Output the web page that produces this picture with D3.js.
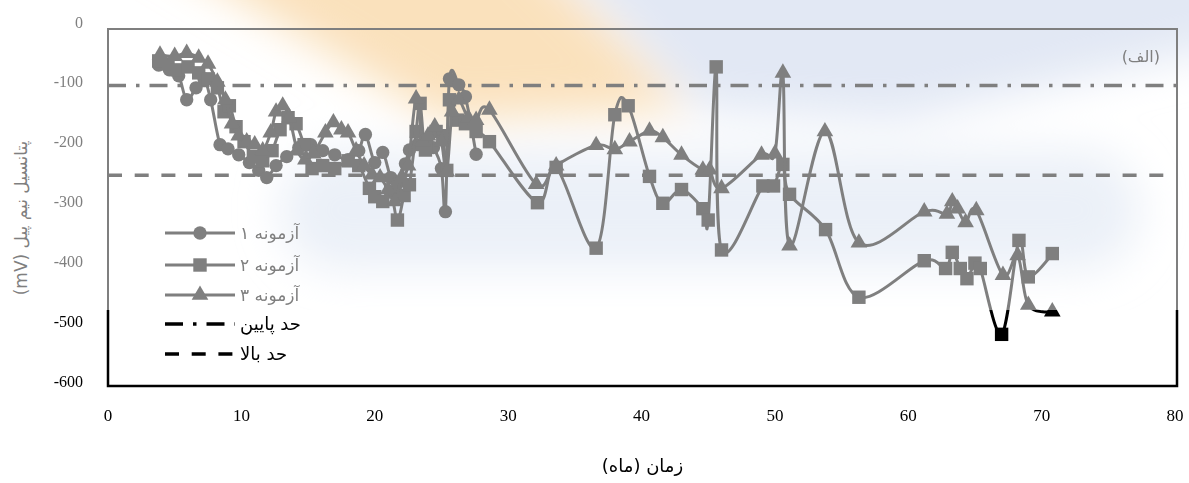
<!DOCTYPE html>
<html>
<head>
<meta charset="utf-8">
<script src="https://cdn.jsdelivr.net/npm/d3@7"></script>
<style>
body{margin:0;background:#fff;}
svg{display:block;}
</style>
</head>
<body>
<script>
var w = 1189;
var h = 483;

// series data (months, potential mV)
var months1 = [3.8,4.6,5.3,5.9,6.6,7.2,7.7,8.4,9.0,9.8,10.6,11.3,11.9,12.6,13.4,14.3,15.2,16.1,17.0,18.0,18.8,19.3,20.0,20.6,21.2,21.7,22.3,22.6,23.2,23.8,24.4,25.0,25.3,25.6,26.3,26.8,27.6];
var pot1 = [-72,-80,-90,-130,-110,-95,-130,-205,-212,-222,-235,-248,-260,-240,-225,-210,-205,-215,-222,-230,-215,-188,-235,-218,-260,-270,-237,-214,-205,-200,-210,-245,-317,-95,-105,-125,-221];

var months2 = [3.8,4.5,5.2,6.0,6.8,7.5,8.2,8.7,9.1,9.6,10.2,10.9,11.6,12.3,12.9,13.5,14.1,14.7,15.3,16.1,17.0,18.0,18.8,19.6,20.0,20.6,21.2,21.7,22.2,22.6,23.1,23.4,23.8,24.6,25.1,25.4,25.6,26.2,26.8,27.6,28.6,32.2,33.6,36.6,38.0,39.0,40.6,41.6,43.0,44.6,45.0,45.6,46.0,49.1,49.9,50.6,51.1,53.8,56.3,61.2,62.8,63.3,63.9,64.4,65.0,65.4,67.0,68.3,69.0,70.8];
var pot2 = [-65,-70,-80,-75,-85,-95,-110,-150,-140,-175,-200,-225,-232,-215,-180,-160,-170,-205,-245,-240,-245,-232,-240,-278,-292,-300,-284,-331,-290,-272,-183,-136,-214,-183,-190,-248,-130,-164,-170,-183,-200,-302,-243,-378,-155,-140,-258,-303,-280,-312,-331,-75,-381,-274,-274,-238,-288,-347,-460,-399,-412,-385,-412,-429,-403,-412,-522,-365,-426,-387];

var months3 = [3.9,5.0,5.9,6.8,7.5,8.2,8.8,9.3,9.8,10.4,11.0,11.6,12.2,12.6,13.1,13.6,14.2,14.8,15.4,16.3,16.9,17.5,18.0,18.6,19.2,19.8,20.4,21.0,21.5,22.0,22.5,23.1,23.6,24.0,24.5,25.0,25.4,25.8,26.3,27.0,27.6,28.6,32.1,33.6,36.6,38.0,39.1,40.6,41.6,43.0,44.6,45.1,46.0,49.0,50.0,50.6,51.1,53.75,56.3,61.2,62.9,63.3,63.7,64.3,65.1,67.1,68.2,69.0,70.8];
var pot3 = [-55,-57,-52,-60,-70,-100,-130,-170,-190,-200,-205,-215,-185,-150,-140,-160,-215,-230,-220,-185,-168,-180,-185,-215,-240,-255,-260,-280,-300,-260,-240,-128,-200,-190,-175,-200,-250,-150,-130,-160,-164,-147,-271,-240,-206,-213,-200,-182,-193,-222,-247,-247,-278,-222,-220,-85,-374,-183,-369,-317,-321,-300,-312,-335,-315,-423,-390,-473,-484];

var lowerLimit = -106;
var upperLimit = -256;

var xTicks = [0,10,20,30,40,50,60,70,80];
var yTicks = [0,-100,-200,-300,-400,-500,-600];
var seriesNames = ["آزمونه ۱","آزمونه ۲","آزمونه ۳"];
var limitNames = ["حد پایین","حد بالا"];

var grey = "#7f7f7f";
var darkY = 310; // everything below this looks black in the scan

var svg = d3.select("body").append("svg")
    .attr("width", w)
    .attr("height", h);

var x = d3.scaleLinear().domain([0,80]).range([108,1175]);
var y = d3.scaleLinear().domain([0,-600]).range([22,381]);

var pLeft = 108, pRight = 1177, pTop = 29, pBottom = 386;

var defs = svg.append("defs");
defs.append("filter").attr("id","blur")
    .attr("filterUnits","userSpaceOnUse")
    .attr("x",-200).attr("y",-200).attr("width",w+400).attr("height",h+400)
    .append("feGaussianBlur").attr("stdDeviation",22);
defs.append("clipPath").attr("id","dark").append("rect")
    .attr("x",0).attr("y",darkY).attr("width",w).attr("height",h-darkY);
defs.append("clipPath").attr("id","light").append("rect")
    .attr("x",0).attr("y",0).attr("width",w).attr("height",darkY);

// faint watermark wash (upper part only)
var wm = svg.append("g").attr("clip-path","url(#light)").append("g").attr("filter","url(#blur)");
wm.append("path").attr("d","M140,-60 L520,-60 L690,110 L440,120 Z").attr("fill","#f9dcb0").attr("opacity",0.85);
wm.append("path").attr("d","M540,-60 L1250,-60 L1250,40 L900,120 L700,110 Z").attr("fill","#dfe6f3").attr("opacity",0.9);
wm.append("rect").attr("x",280).attr("y",150).attr("width",860).attr("height",120).attr("rx",60)
    .attr("fill","#e3e9f5").attr("opacity",0.7);

// frame
svg.append("path")
    .attr("d","M"+pLeft+","+darkY+"V"+pTop+"H"+pRight+"V"+darkY)
    .attr("fill","none").attr("stroke",grey).attr("stroke-width",2);
svg.append("path")
    .attr("d","M"+pLeft+","+darkY+"V"+pBottom+"H"+pRight+"V"+darkY)
    .attr("fill","none").attr("stroke","#000").attr("stroke-width",2.5);

// limit lines
svg.append("line").attr("x1",pLeft).attr("x2",pRight)
    .attr("y1",y(lowerLimit)).attr("y2",y(lowerLimit))
    .attr("stroke",grey).attr("stroke-width",3.5).attr("stroke-dasharray","18,10,3.5,10");
svg.append("line").attr("x1",pLeft).attr("x2",pRight)
    .attr("y1",y(upperLimit)).attr("y2",y(upperLimit))
    .attr("stroke",grey).attr("stroke-width",3.5).attr("stroke-dasharray","14,12.7");

var series = [
  {m: months1, p: pot1, sym: d3.symbolCircle, size: 140},
  {m: months2, p: pot2, sym: d3.symbolSquare, size: 180},
  {m: months3, p: pot3, sym: d3.symbolTriangle, size: 120}
];

var line = d3.line()
    .x(function(d){return x(d[0]);})
    .y(function(d){return y(d[1]);})
    .curve(d3.curveCatmullRom.alpha(0));

function drawSeries(g, color){
  series.forEach(function(s){
    var pts = s.m.map(function(v,i){return [v, s.p[i]];});
    g.append("path").datum(pts)
      .attr("d", line)
      .attr("fill","none").attr("stroke",color).attr("stroke-width",3);
    g.selectAll(null).data(pts).enter().append("path")
      .attr("d", d3.symbol().type(s.sym).size(s.size))
      .attr("transform", function(d){return "translate("+x(d[0])+","+y(d[1])+")";})
      .attr("fill", color);
  });
}
drawSeries(svg.append("g").attr("clip-path","url(#light)"), grey);
drawSeries(svg.append("g").attr("clip-path","url(#dark)"), "#000");

// y tick labels
svg.selectAll(".ytick").data(yTicks).enter().append("text")
    .attr("class","ytick")
    .attr("x",83).attr("y",function(d){return y(d);})
    .attr("dy","0.35em")
    .attr("text-anchor","end")
    .attr("font-family","Liberation Serif, serif")
    .attr("font-size",16)
    .attr("fill",function(d){return y(d) > darkY ? "#000" : grey;})
    .text(function(d){return d;});

// x tick labels
svg.selectAll(".xtick").data(xTicks).enter().append("text")
    .attr("class","xtick")
    .attr("x",function(d){return x(d);}).attr("y",415)
    .attr("dy","0.35em")
    .attr("text-anchor","middle")
    .attr("font-family","Liberation Serif, serif")
    .attr("font-size",17)
    .attr("fill","#000")
    .text(function(d){return d;});

// axis titles
svg.append("text")
    .attr("x",(pLeft+pRight)/2).attr("y",472)
    .attr("direction","rtl")
    .attr("text-anchor","middle")
    .attr("font-family","DejaVu Sans, sans-serif")
    .attr("font-size",18)
    .attr("fill","#000")
    .text("زمان (ماه)");

svg.append("text")
    .attr("transform","translate(27,218) rotate(-90)")
    .attr("direction","rtl")
    .attr("text-anchor","middle")
    .attr("font-family","DejaVu Sans, sans-serif")
    .attr("font-size",17)
    .attr("fill",grey)
    .text("پتانسیل نیم پیل (mV)");

svg.append("text")
    .attr("x",1160).attr("y",62)
    .attr("direction","rtl")
    .attr("text-anchor","start")
    .attr("font-family","DejaVu Sans, sans-serif")
    .attr("font-size",16)
    .attr("fill",grey)
    .text("(الف)");

// legend
var legY = [233,265,295];
series.forEach(function(s,i){
  var g = svg.append("g");
  g.append("line").attr("x1",165).attr("x2",235).attr("y1",legY[i]).attr("y2",legY[i])
    .attr("stroke",grey).attr("stroke-width",3);
  g.append("path").attr("d", d3.symbol().type(s.sym).size(s.size))
    .attr("transform","translate(200,"+legY[i]+")").attr("fill",grey);
  g.append("text").attr("x",240).attr("y",legY[i]).attr("dy","0.35em")
    .attr("direction","rtl").attr("text-anchor","end")
    .attr("font-family","DejaVu Sans, sans-serif").attr("font-size",17)
    .attr("fill",grey).text(seriesNames[i]);
});
var limY = [324,354];
var limDash = ["18,10,3.5,10","14,12.7"];
limitNames.forEach(function(n,i){
  svg.append("line").attr("x1",165).attr("x2",235).attr("y1",limY[i]).attr("y2",limY[i])
    .attr("stroke","#000").attr("stroke-width",3.5).attr("stroke-dasharray",limDash[i]);
  svg.append("text").attr("x",240).attr("y",limY[i]).attr("dy","0.35em")
    .attr("direction","rtl").attr("text-anchor","end")
    .attr("font-family","DejaVu Sans, sans-serif").attr("font-size",18)
    .attr("fill","#000").text(n);
});
</script>
</body>
</html>
